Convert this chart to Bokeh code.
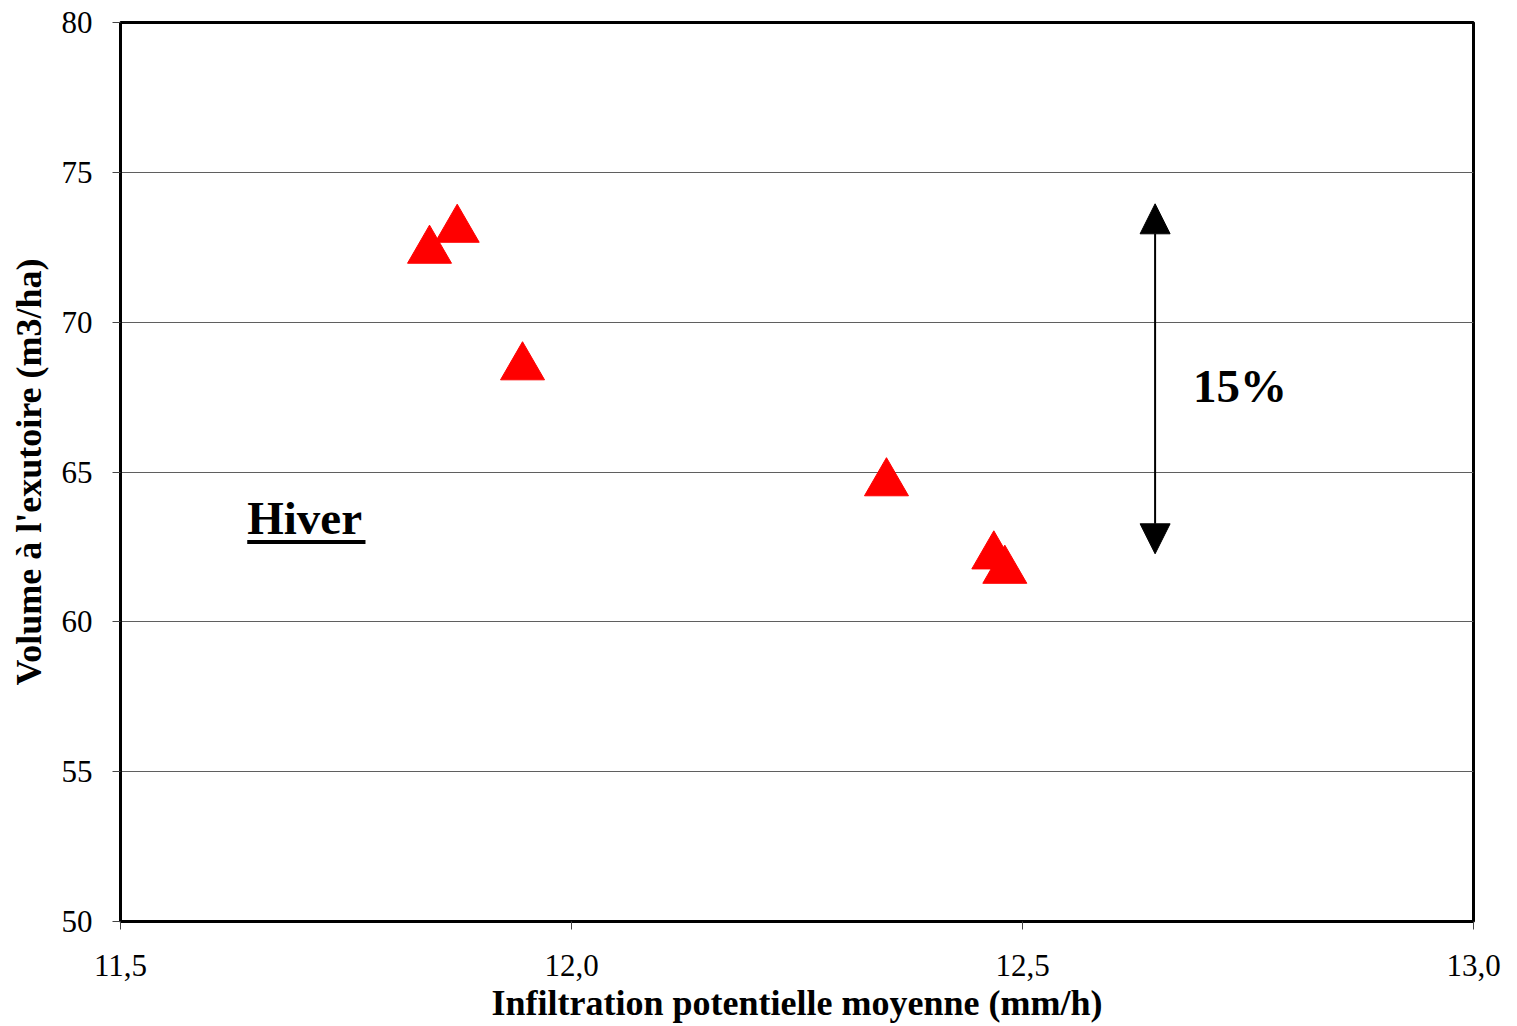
from bokeh.plotting import figure
from bokeh.models import (Range1d, Label, Arrow, NormalHead, FixedTicker,
                          CustomJSTickFormatter, ColumnDataSource)
from bokeh.embed import file_html
from bokeh.resources import INLINE

# ---- data ----
infiltration = [11.8426, 11.8733, 11.9457, 12.3492, 12.4682, 12.4804]   # mm/h
volume = [72.39, 73.09, 68.50, 64.63, 62.19, 61.71]                      # m3/ha
x_ticks = [11.5, 12.0, 12.5, 13.0]
y_ticks = [50, 55, 60, 65, 70, 75, 80]

# annotation anchors (data units)
arrow_x = 12.647
arrow_low = 62.27
arrow_high = 73.95
pct_label = "15%"
season_label = "Hiver"

FONT = "Liberation Serif"

p = figure(width=1517, height=1026, output_backend="svg", toolbar_location=None,
           x_range=Range1d(11.5, 13.0), y_range=Range1d(50, 80),
           min_border_left=120, min_border_right=44, min_border_top=22,
           min_border_bottom=105)

p.background_fill_color = "white"
p.border_fill_color = "white"
p.outline_line_color = "black"
p.outline_line_width = 3

p.xgrid.visible = False
p.ygrid.grid_line_color = "#5f5f5f"
p.ygrid.grid_line_width = 1
p.ygrid.ticker = FixedTicker(ticks=y_ticks)

fmt = CustomJSTickFormatter(code="return tick.toFixed(1).replace('.', ',');")
p.xaxis.ticker = FixedTicker(ticks=x_ticks)
p.xaxis.formatter = fmt
p.yaxis.ticker = FixedTicker(ticks=y_ticks)

for ax in (p.xaxis[0], p.yaxis[0]):
    ax.axis_line_color = "black"
    ax.axis_line_width = 3
    ax.major_tick_line_color = "#444444"
    ax.major_tick_line_width = 1
    ax.major_tick_out = 8
    ax.major_tick_in = 0
    ax.minor_tick_line_color = None
    ax.major_label_text_font = FONT
    ax.major_label_text_font_size = "31px"
    ax.major_label_text_color = "black"
    ax.axis_label_text_font = FONT
    ax.axis_label_text_font_style = "bold"
    ax.axis_label_text_font_size = "36px"
    ax.axis_label_text_color = "black"

p.xaxis.axis_label = "Infiltration potentielle moyenne (mm/h)"
p.yaxis.axis_label = "Volume à l'exutoire (m3/ha)"
p.xaxis.major_label_standoff = 25
p.xaxis.axis_label_standoff = 4
p.yaxis.major_label_standoff = 20
p.yaxis.axis_label_standoff = 10

src = ColumnDataSource(data=dict(x=infiltration, y=volume))
p.scatter("x", "y", source=src, marker="triangle", size=44,
          fill_color="#FF0000", line_color="#FF0000", line_width=1)

p.add_layout(Arrow(x_start=arrow_x, y_start=arrow_low, x_end=arrow_x, y_end=arrow_high,
                   line_color="black", line_width=2,
                   start=NormalHead(size=30, fill_color="black", line_color="black", line_width=1),
                   end=NormalHead(size=30, fill_color="black", line_color="black", line_width=1)))

p.add_layout(Label(x=12.689, y=67.855, text=pct_label, text_font=FONT,
                   text_font_style="bold", text_font_size="47px",
                   text_align="left", text_baseline="alphabetic", text_color="black"))

p.add_layout(Label(x=11.6405, y=63.47, text=season_label, text_font=FONT,
                   text_font_style="bold", text_font_size="47px",
                   text_align="left", text_baseline="alphabetic", text_color="black"))
p.segment(x0=[11.6405], y0=[62.66], x1=[11.7716], y1=[62.66],
          line_color="black", line_width=4)

open("out.html", "w").write(file_html(p, INLINE))
